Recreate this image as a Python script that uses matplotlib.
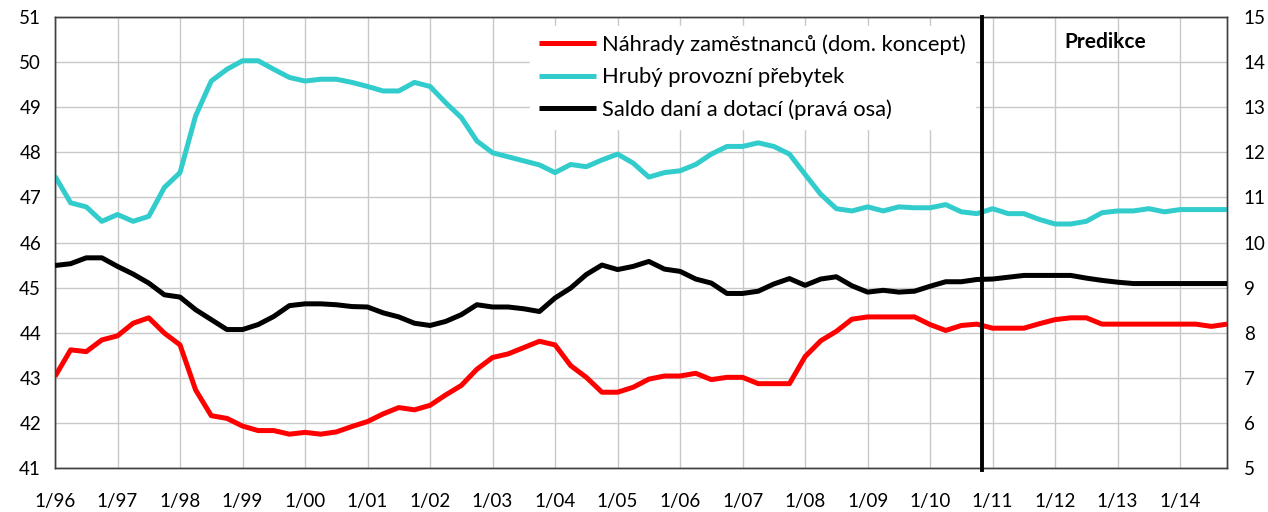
import numpy as np
import matplotlib
matplotlib.use("Agg")
import matplotlib.pyplot as plt

plt.rcParams["font.family"] = ["Lato", "DejaVu Sans"]

# ── Data (quarterly, 1996Q1 – 2014Q4) ──────────────────────────────────────────

nahrady = [
    43.03, 43.62, 43.58, 43.84, 43.93, 44.21, 44.33, 43.99, 43.73, 42.73,
    42.16, 42.10, 41.93, 41.83, 41.83, 41.75, 41.79, 41.75, 41.80, 41.92,
    42.03, 42.20, 42.34, 42.29, 42.39, 42.62, 42.83, 43.19, 43.45, 43.53,
    43.67, 43.81, 43.73, 43.27, 43.01, 42.68, 42.68, 42.79, 42.97, 43.04,
    43.04, 43.10, 42.96, 43.01, 43.01, 42.87, 42.87, 42.87, 43.47, 43.82,
    44.03, 44.30, 44.35, 44.35, 44.35, 44.35, 44.18, 44.05, 44.16, 44.19,
    44.10, 44.10, 44.10, 44.20, 44.29, 44.33, 44.33, 44.19, 44.19, 44.19,
    44.19, 44.19, 44.19, 44.19, 44.14, 44.19,
]

prebytek = [
    47.47, 46.88, 46.79, 46.47, 46.62, 46.47, 46.58, 47.22, 47.55, 48.81,
    49.58, 49.84, 50.03, 50.03, 49.84, 49.66, 49.58, 49.62, 49.62, 49.55,
    49.46, 49.36, 49.36, 49.55, 49.46, 49.10, 48.77, 48.25, 47.99, 47.90,
    47.81, 47.72, 47.55, 47.73, 47.68, 47.83, 47.96, 47.76, 47.45, 47.55,
    47.59, 47.73, 47.96, 48.13, 48.13, 48.21, 48.13, 47.96, 47.51, 47.07,
    46.75, 46.70, 46.79, 46.70, 46.79, 46.77, 46.77, 46.84, 46.68, 46.64,
    46.75, 46.64, 46.64, 46.51, 46.41, 46.41, 46.47, 46.66, 46.70, 46.70,
    46.75, 46.68, 46.73, 46.73, 46.73, 46.73,
]

saldo = [
    9.49, 9.53, 9.66, 9.66, 9.47, 9.30, 9.10, 8.84, 8.79, 8.51,
    8.29, 8.07, 8.07, 8.18, 8.36, 8.60, 8.64, 8.64, 8.62, 8.58,
    8.57, 8.44, 8.35, 8.21, 8.16, 8.25, 8.40, 8.62, 8.57, 8.57,
    8.53, 8.47, 8.77, 8.99, 9.29, 9.50, 9.40, 9.47, 9.58, 9.41,
    9.36, 9.19, 9.10, 8.87, 8.87, 8.92, 9.08, 9.20, 9.05, 9.19,
    9.24, 9.04, 8.90, 8.94, 8.90, 8.92, 9.03, 9.13, 9.13, 9.18,
    9.19, 9.23, 9.27, 9.27, 9.27, 9.27, 9.21, 9.16, 9.12, 9.09,
    9.09, 9.09, 9.09, 9.09, 9.09, 9.09,
]

tick_labels = ["1/96", "1/97", "1/98", "1/99", "1/00", "1/01", "1/02", "1/03",
               "1/04", "1/05", "1/06", "1/07", "1/08", "1/09", "1/10", "1/11",
               "1/12", "1/13", "1/14"]

labels = ["Náhrady zaměstnanců (dom. koncept)",
          "Hrubý provozní přebytek",
          "Saldo daní a dotací (pravá osa)"]

forecast_start = 59.35  # position of the "Predikce" divider (quarters)

# ── Plot ───────────────────────────────────────────────────────────────────────

x = np.arange(len(nahrady))

fig = plt.figure(figsize=(12.68, 5.12), dpi=100)
ax = fig.add_axes([55 / 1268, 44 / 512, 1172 / 1268, 451 / 512])
ax2 = ax.twinx()

RED, CYAN, BLACK = "#ff0000", "#33cccc", "#000000"
LW = 3.6

l1, = ax.plot(x, nahrady, color=RED, lw=LW, solid_capstyle="butt", zorder=3)
l2, = ax.plot(x, prebytek, color=CYAN, lw=LW, solid_capstyle="butt", zorder=3)
l3, = ax2.plot(x, saldo, color=BLACK, lw=LW, solid_capstyle="butt", zorder=3)

ax.set_xlim(0, len(x) - 1)
ax.set_ylim(41, 51)
ax2.set_ylim(5, 15)
ax.set_yticks(range(41, 52))
ax2.set_yticks(range(5, 16))
ax.set_xticks(x[::4])
ax.set_xticklabels(tick_labels)

ax.grid(True, color="#c8c8c8", lw=1.0, zorder=0)
ax.set_axisbelow(True)

for a in (ax, ax2):
    a.tick_params(length=0, labelsize=13.5, colors="#000000")
    for sp in a.spines.values():
        sp.set_color("#404040")
        sp.set_linewidth(1.0)
ax.tick_params(axis="x", pad=18)
ax.tick_params(axis="y", pad=10)
ax2.tick_params(axis="y", pad=12)

leg = ax2.legend([l1, l2, l3], labels, loc="upper left",
                 bbox_to_anchor=(466 / 1172, 1.0), fontsize=15.8,
                 frameon=True, fancybox=False, framealpha=1, edgecolor="white",
                 handlelength=2.6, handletextpad=0.3, labelspacing=0.55,
                 borderpad=0.4, borderaxespad=0.4)
leg.set_zorder(5)

# forecast divider drawn above the legend box
ax2.axvline(forecast_start, color="black", lw=2.8, ymin=-0.005, ymax=1,
            clip_on=False, zorder=6)
ax2.text(67.2, 14.44, "Predikce", ha="center", va="center",
         fontsize=15, fontweight="bold", zorder=6)

fig.savefig("out.png", dpi=100, facecolor="white")
